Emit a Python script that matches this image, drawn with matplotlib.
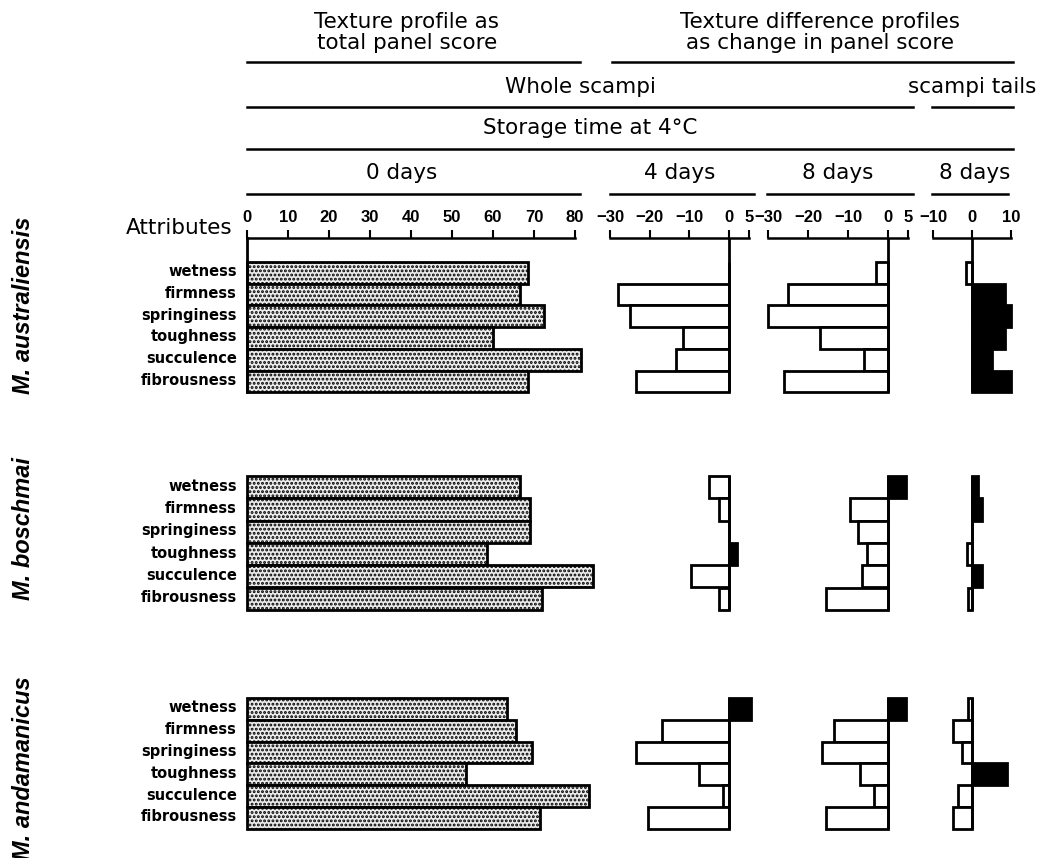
import matplotlib.pyplot as plt
from matplotlib.lines import Line2D

W, H = 1047, 858

attributes = ["wetness", "firmness", "springiness", "toughness", "succulence", "fibrousness"]
species = ["M. australiensis", "M. boschmai", "M. andamanicus"]

# total panel score at 0 days, one list per species
score_0d = [
    [68.5, 66.5, 72.5, 60, 81.5, 68.5],
    [66.5, 69, 69, 58.5, 84.5, 72],
    [63.5, 65.5, 69.5, 53.5, 83.5, 71.5],
]
# change in panel score, whole scampi, 4 days
diff_4d = [
    [0, -28, -25, -11.5, -13.5, -23.5],
    [-5, -2.5, 0, 2, -9.5, -2.5],
    [5.5, -17, -23.5, -7.5, -1.5, -20.5],
]
# change in panel score, whole scampi, 8 days
diff_8d = [
    [-3, -25, -30, -17, -6, -26],
    [4.5, -9.5, -7.5, -5.25, -6.5, -15.5],
    [4.5, -13.5, -16.5, -7, -3.5, -15.5],
]
# change in panel score, scampi tails, 8 days
diff_tails = [
    [-1.5, 8.5, 10, 8.5, 5, 10],
    [1.5, 2.5, 0, -1.3, 2.5, -1],
    [-1, -5, -2.5, 9, -3.5, -5],
]

ticks_0d = [0, 10, 20, 30, 40, 50, 60, 70, 80]
ticks_diff = [-30, -20, -10, 0, 5]
ticks_tails = [-10, 0, 10]

plt.rcParams['hatch.linewidth'] = 1.4

fig = plt.figure(figsize=(W / 100, H / 100), dpi=100)


def px_axes(x0, x1, y0, y1):
    return fig.add_axes([x0 / W, 1 - y1 / H, (x1 - x0) / W, (y1 - y0) / H])


def ftext(x, y, s, **kw):
    kw.setdefault('ha', 'center')
    kw.setdefault('va', 'center')
    fig.text(x / W, 1 - y / H, s, **kw)


def hline(y, x0, x1):
    fig.add_artist(Line2D([x0 / W, x1 / W], [1 - y / H, 1 - y / H],
                          color='black', lw=1.8, transform=fig.transFigure))


# panel layout: (data, xlim, left px, right px, ticks)
panels = [
    (score_0d, (0, 80), 247, 575, ticks_0d),
    (diff_4d, (-30, 5), 610, 749, ticks_diff),
    (diff_8d, (-30, 5), 768, 908, ticks_diff),
    (diff_tails, (-10, 10), 933, 1011, ticks_tails),
]
# group layout: (axes top px, rows top px, row height px, species label y)
groups = [(238, 262, 21.7, 305), (476, 476, 22.3, 528), (698, 698, 21.8, 768)]

for g, (ax_top, rows_top, rowh, sp_y) in enumerate(groups):
    y_bottom = rows_top + 6 * rowh
    ypos = [i + 0.5 for i in range(len(attributes))]
    for p, (data, xlim, x0, x1, ticks) in enumerate(panels):
        ax = px_axes(x0, x1, ax_top, y_bottom)
        vals = data[g]
        if p == 0:
            ax.barh(ypos, vals, height=1.0, color='#ececec', edgecolor='black',
                    hatch='....', lw=2.0, clip_on=False)
        else:
            colors = ['black' if v > 0 else 'white' for v in vals]
            ax.barh(ypos, vals, height=1.0, color=colors, edgecolor='black',
                    lw=2.0, clip_on=False, zorder=2)
            ax.axvline(0, color='black', lw=2.0, zorder=3)
        ax.set_xlim(*xlim)
        ax.set_ylim(6, -(rows_top - ax_top) / rowh)
        if g == 0:
            for side in ['right', 'bottom', 'left']:
                ax.spines[side].set_visible(False)
            ax.spines['top'].set_linewidth(1.8)
            if p == 0:
                ax.spines['left'].set_visible(True)
                ax.spines['left'].set_linewidth(2.0)
            ax.xaxis.tick_top()
            ax.set_xticks(ticks)
            ax.set_yticks([])
            ax.tick_params(axis='x', direction='out', length=6, width=1.5,
                           pad=3, labelsize=12)
            for lbl in ax.get_xticklabels():
                lbl.set_fontweight('bold')
                lbl.set_family('Liberation Sans')
            ax.patch.set_visible(False)
        else:
            ax.axis('off')

    for i, name in enumerate(attributes):
        ftext(237, rows_top + (i + 0.5) * rowh - 1, name, ha='right',
              fontsize=10.5, fontweight='bold')
    ftext(24, sp_y, species[g], rotation=90, fontsize=17, fontweight='bold',
          fontstyle='italic', family='Liberation Sans')

# column headers
hs = 15.5
ftext(407, 22, "Texture profile as", fontsize=hs)
ftext(407, 43, "total panel score", fontsize=hs)
ftext(820, 22, "Texture difference profiles", fontsize=hs)
ftext(820, 43, "as change in panel score", fontsize=hs)
ftext(580, 87, "Whole scampi", fontsize=hs)
ftext(972, 87, "scampi tails", fontsize=hs)
ftext(590, 128, "Storage time at 4°C", fontsize=hs)
ftext(402, 173, "0 days", fontsize=hs)
ftext(680, 173, "4 days", fontsize=hs)
ftext(838, 173, "8 days", fontsize=hs)
ftext(975, 173, "8 days", fontsize=hs)
ftext(232, 228, "Attributes", ha='right', fontsize=hs)

hline(62, 247, 580)
hline(62, 612, 1013)
hline(107, 247, 913)
hline(107, 932, 1013)
hline(149, 247, 1013)
hline(194, 247, 580)
hline(194, 610, 754)
hline(194, 767, 913)
hline(194, 932, 1008)

fig.savefig("out.png", dpi=100)
